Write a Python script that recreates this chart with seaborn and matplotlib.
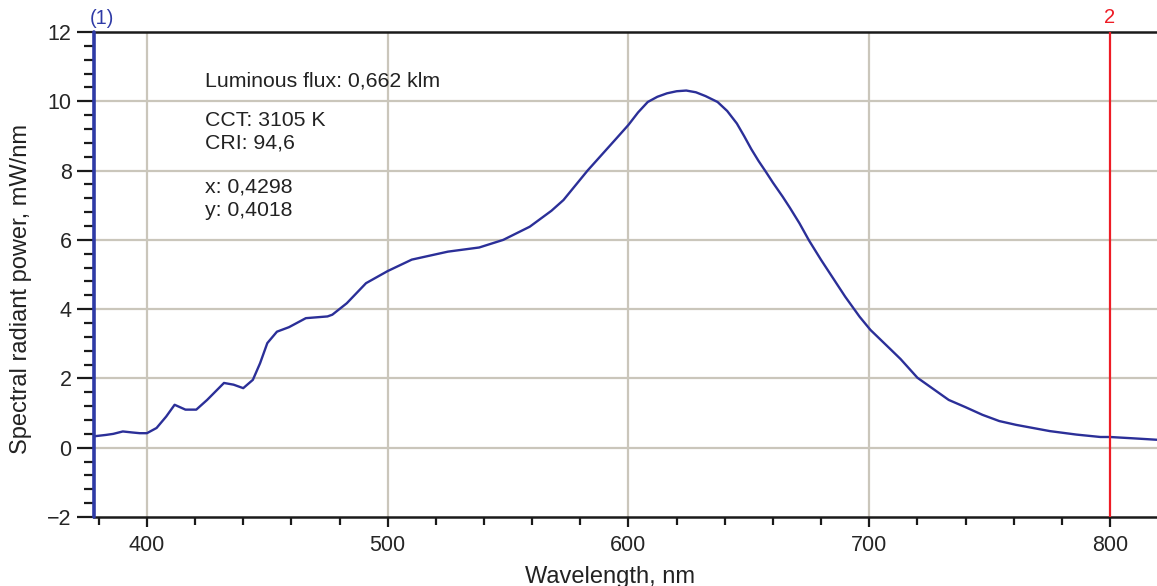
import numpy as np
import pandas as pd
import seaborn as sns
import matplotlib.pyplot as plt
from matplotlib.ticker import MultipleLocator

# Spectrum
wavelength = [378, 383, 386, 390, 394, 397, 400, 404, 408, 411.5, 416, 420.5, 425,
              432, 436, 440, 444, 447, 450, 454, 459, 466, 475, 477, 483, 491,
              500, 510, 525, 538, 548, 559, 568, 573, 583, 595, 600, 604, 608, 612,
              616, 620, 624, 628, 632, 637, 641, 645, 648, 651, 654, 657, 660, 664,
              667, 671, 675, 680, 685, 690, 696, 700.5, 709, 713, 720, 733, 740, 747,
              754, 761, 775, 786, 796, 800, 810, 819.5]
power = [0.33, 0.37, 0.40, 0.47, 0.44, 0.42, 0.42, 0.57, 0.90, 1.24, 1.10, 1.10, 1.38,
         1.87, 1.82, 1.72, 1.96, 2.44, 3.02, 3.35, 3.48, 3.74, 3.79, 3.84, 4.17, 4.75,
         5.10, 5.43, 5.66, 5.78, 6.00, 6.38, 6.84, 7.15, 8.00, 8.93, 9.32, 9.68, 9.98, 10.13,
         10.23, 10.29, 10.31, 10.26, 10.15, 9.98, 9.72, 9.36, 9.00, 8.62, 8.28, 7.97, 7.65, 7.25,
         6.93, 6.48, 5.98, 5.42, 4.89, 4.36, 3.78, 3.40, 2.83, 2.56, 2.02, 1.38, 1.17, 0.95,
         0.77, 0.66, 0.48, 0.38, 0.31, 0.31, 0.27, 0.23]

info_lines = ["Luminous flux: 0,662 klm", "CCT: 3105 K", "CRI: 94,6", "x: 0,4298", "y: 0,4018"]
info_y = [10.59, 9.44, 8.80, 7.54, 6.86]

marker1 = 378
marker2 = 800

df = pd.DataFrame({"wl": wavelength, "p": power})

sns.set_theme(style="white")
plt.rcParams['font.family'] = ['Liberation Sans', 'DejaVu Sans']

fig = plt.figure(figsize=(11.57, 5.86), dpi=100)
ax = fig.add_axes([0.0812, 0.1177, 0.9188, 0.8277])

grid_c = "#cac6bb"
for gx in [400, 500, 600, 700]:
    ax.axvline(gx, color=grid_c, lw=1.6, zorder=0)
for gy in [0, 2, 4, 6, 8, 10]:
    ax.axhline(gy, color=grid_c, lw=1.6, zorder=0)

sns.lineplot(data=df, x="wl", y="p", ax=ax, color="#2b2f98", lw=1.7, zorder=3)

ax.axvline(marker1, color="#2e3aa6", lw=2.6, zorder=4, clip_on=False)
ax.axvline(marker2, color="#ee1c25", lw=1.6, zorder=4)
ax.text(marker1 + 3.5, 12.38, "(1)", color="#2e3aa6", fontsize=14.5,
        ha="center", va="center", clip_on=False)
ax.text(marker2, 12.42, "2", color="#ee1c25", fontsize=14.5,
        ha="center", va="center", clip_on=False)

for t, yy in zip(info_lines, info_y):
    ax.text(424.1, yy, t, fontsize=15.3, color="#222222", ha="left", va="center")

ax.set_xlim(378, 819.5)
ax.set_ylim(-2, 12)
ax.xaxis.set_major_locator(MultipleLocator(100))
ax.xaxis.set_minor_locator(MultipleLocator(20))
ax.yaxis.set_major_locator(MultipleLocator(2))
ax.yaxis.set_minor_locator(MultipleLocator(0.4))

for s in ["left", "right"]:
    ax.spines[s].set_visible(False)
for s in ["top", "bottom"]:
    ax.spines[s].set_color("#1a1a1a")
    ax.spines[s].set_linewidth(1.8)

ax.tick_params(axis="x", which="major", direction="out", length=7, width=1.6,
               color="#1a1a1a", labelsize=15.5, pad=6, bottom=True)
ax.tick_params(axis="x", which="minor", direction="out", length=6, width=1.6,
               color="#1a1a1a", bottom=True)
ax.tick_params(axis="y", which="major", direction="out", length=12, width=1.6,
               color="#1a1a1a", labelsize=15.5, pad=4, left=True)
ax.tick_params(axis="y", which="minor", direction="out", length=7, width=1.6,
               color="#1a1a1a", left=True)

ax.set_xlabel("Wavelength, nm", fontsize=17, color="#222222")
ax.set_ylabel("Spectral radiant power, mW/nm", fontsize=17, color="#222222")
ax.xaxis.set_label_coords(0.485, -0.1)
ax.yaxis.set_label_coords(-0.058, 0.47)

plt.savefig("out.png", dpi=100)
